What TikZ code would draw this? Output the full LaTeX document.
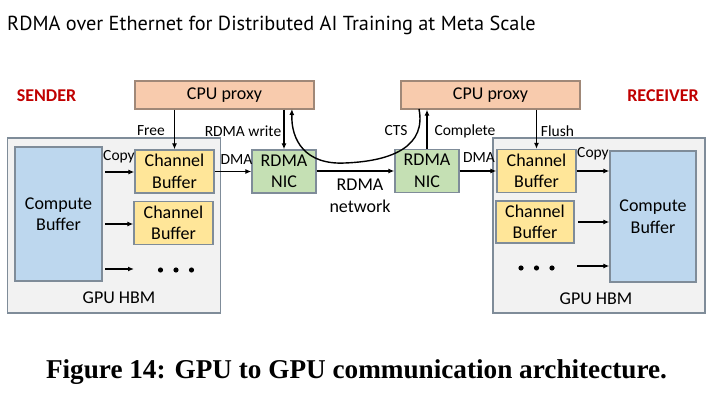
\documentclass[tikz,border=0pt]{standalone}
\usepackage{fontspec}
\setmainfont{Carlito}
\newfontfamily\titlefont{PT Sans}
\newfontfamily\capfont{Liberation Serif}
\usetikzlibrary{arrows.meta}
\definecolor{peach}{HTML}{F8CBAD}
\definecolor{hbm}{HTML}{F2F2F2}
\definecolor{cbuf}{HTML}{FFE699}
\definecolor{compb}{HTML}{BDD7EE}
\definecolor{nicg}{HTML}{C5E0B4}
\definecolor{bord}{HTML}{7F8C99}
\definecolor{pbord}{HTML}{A08878}
\definecolor{red}{HTML}{C00000}
\tikzset{
  box/.style={draw=bord, line width=1.3pt, inner sep=0pt, align=center, font=\fontsize{18}{21.5}\selectfont},
  cpu/.style={box, draw=pbord, fill=peach, minimum width=179pt, minimum height=28pt},
  hbm/.style={box, fill=hbm, minimum width=213pt, minimum height=175pt},
  chan/.style={box, fill=cbuf, minimum width=79pt, minimum height=43pt},
  comp/.style={box, fill=compb},
  nic/.style={box, fill=nicg, minimum width=64pt, minimum height=43pt},
  lbl/.style={inner sep=0pt, font=\fontsize{15.5}{18}\selectfont},
  big/.style={inner sep=0pt, font=\fontsize{18}{21.5}\selectfont, align=center},
  side/.style={inner sep=0pt, text=red, font=\fontsize{18}{21}\selectfont\bfseries},
  arr/.style={line width=1.4pt, -{Latex[length=6pt,width=5pt]}},
}
\begin{document}
\begin{tikzpicture}[x=1pt,y=-1pt]
\useasboundingbox (0,0) rectangle (721,406);
% title and caption
\node[anchor=west, inner sep=0pt, font=\titlefont\fontsize{20.3}{24}\selectfont] (title) at (7,25) {RDMA over Ethernet for Distributed AI Training at Meta Scale};
\node[inner sep=0pt, font=\capfont\bfseries\fontsize{27.2}{30}\selectfont] (caption) at (356.5,372) {Figure 14: GPU to GPU communication architecture.};
% side labels
\node[side] (sender) at (46.5,96) {SENDER};
\node[side] (receiver) at (663,96) {RECEIVER};
% sender
\node[cpu] (cpuS) at (224.5,95) {CPU proxy};
\node[hbm] (gpuS) at (114,225.5) {};
\node[comp, minimum width=87pt, minimum height=134pt] (compS) at (58.5,214) {Compute\\Buffer};
\node[chan] (ch1S) at (174.5,171.5) {Channel\\Buffer};
\node[chan] (ch2S) at (173.5,223) {Channel\\Buffer};
\node[nic] (nicS) at (284,171.5) {RDMA\\NIC};
\node[big] (hbmS) at (119,298) {GPU HBM};
% receiver
\node[cpu] (cpuR) at (490.5,95) {CPU proxy};
\node[hbm, minimum width=212pt] (gpuR) at (599,225.5) {};
\node[comp, minimum width=86pt, minimum height=131pt] (compR) at (653,216.5) {Compute\\Buffer};
\node[chan] (ch1R) at (536.5,171) {Channel\\Buffer};
\node[chan, minimum width=78pt, minimum height=42pt] (ch2R) at (535,222) {Channel\\Buffer};
\node[nic] (nicR) at (427,171) {RDMA\\NIC};
\node[big] (hbmR) at (596,299) {GPU HBM};
% dots
\fill (160.5,270) circle (2.6pt) (176,270) circle (2.6pt) (191.5,270) circle (2.6pt);
\fill (521,268) circle (2.6pt) (536.5,268) circle (2.6pt) (552,268) circle (2.6pt);
% sender arrows
\coordinate (c1) at (105,172);
\coordinate (c2) at (105,224);
\coordinate (c3) at (105,269);
\coordinate (c3e) at (134,269);
\draw[arr] (c1) -- (c1 -| ch1S.west);
\draw[arr] (c2) -- (c2 -| ch2S.west);
\draw[arr] (c3) -- (c3e);
\node[lbl] (copyS) at (119,157) {Copy};
\draw[arr] (ch1S.east) -- (nicS.west |- ch1S.east);
\node[lbl] (dmaS) at (236.5,160) {DMA};
\draw[arr] (ch1S.north |- cpuS.south) -- (ch1S.north);
\node[lbl] (free) at (151,131) {Free};
\draw[arr] (nicS.north |- cpuS.south) -- (nicS.north);
\node[lbl] (rwrite) at (243,131) {RDMA write};
% network
\draw[arr] (nicS.east |- nicR.west) -- (nicR.west);
\node[big] (net) at (360,196) {RDMA\\network};
% receiver arrows
\draw[arr] (nicR.north) -- (nicR.north |- cpuR.south);
\node[lbl] (complete) at (465,131) {Complete};
\node[lbl] (cts) at (396,131) {CTS};
\draw[arr] (ch1R.north |- cpuR.south) -- (ch1R.north);
\node[lbl] (flush) at (557.5,131) {Flush};
\draw[arr] (nicR.east) -- (ch1R.west |- nicR.east);
\node[lbl] (dmaR) at (479,158) {DMA};
\draw[arr] (ch1R.east) -- (compR.west |- ch1R.east);
\node[lbl] (copyR) at (593,154) {Copy};
\coordinate (r2) at (578,222);
\coordinate (r3) at (577,266);
\draw[arr] (r2) -- (r2 -| compR.west);
\draw[arr] (r3) -- (r3 -| compR.west);
% CTS curve
\coordinate (ctsA) at (419,109);
\coordinate (ctsB) at (292,109);
\draw[arr] (ctsA) .. controls (426,145) and (395,161) .. (345,163) .. controls (305,165) and (291,140) .. (ctsB);
\end{tikzpicture}
\end{document}
